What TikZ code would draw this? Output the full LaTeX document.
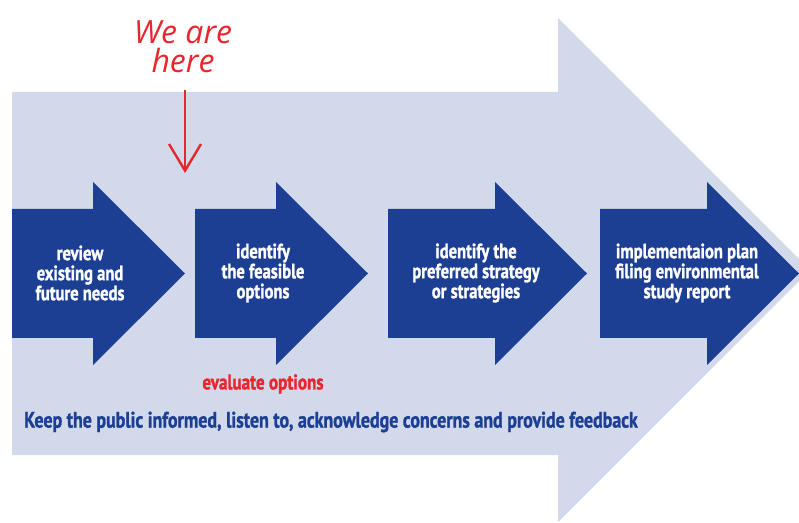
\documentclass[tikz,border=0pt]{standalone}
\usepackage{fontspec}
\setmainfont{PT Sans}[FakeStretch=0.8, BoldFeatures={FakeBold=1.2}]
\newfontfamily\handfont{Open Sans}
\usetikzlibrary{arrows.meta}
\definecolor{stepblue}{HTML}{1C3F94}
\definecolor{paleblue}{HTML}{D2D9EA}
\definecolor{markred}{HTML}{E8262D}
\begin{document}
\begin{tikzpicture}[x=0.75pt, y=-0.75pt,
  steptext/.style={text=white, font=\bfseries\fontsize{15.5}{15}\selectfont, align=center, inner sep=0pt},
  notetext/.style={font=\bfseries\fontsize{16}{16}\selectfont, inner sep=0pt},
  hand/.style={text=markred, font=\handfont\itshape\fontsize{24}{22}\selectfont, align=center, inner sep=0pt},
  pointer/.style={draw=markred, line width=1.8pt, -{Straight Barb[length=20pt, width=24pt, line width=1.8pt]}}
]
\useasboundingbox (0,0) rectangle (799,523);
\clip (0,0) rectangle (799,523);
% big background arrow
\fill[paleblue] (12,92) -- (558,92) -- (558,18) -- (810,270) -- (558,522) -- (558,455) -- (12,455) -- cycle;
% step arrows
\foreach \l/\s/\t in {12/93/185, 195/276/368, 388/495/587, 600/707/799}
  \fill[stepblue] (\l,209) -- (\s,209) -- (\s,182) -- (\t,273.5) -- (\s,365) -- (\s,338) -- (\l,338) -- cycle;
\node[steptext] (review) at (80,273) {review\\existing and\\future needs};
\node[steptext] (feasible) at (263,273) {identify\\the feasible\\options};
\node[steptext] (preferred) at (476,273) {identify the\\preferred strategy\\or strategies};
\node[steptext] (report) at (687,273) {implementaion plan\\filing environmental\\study report};
\node[notetext, text=markred] (evaluate) at (263,384) {evaluate options};
\node[notetext, text=stepblue, font=\bfseries\fontsize{16.8}{16}\selectfont] (public) at (331,422) {Keep the public informed, listen to, acknowledge concerns and provide feedback};
% we are here
\node[hand] (here) at (183,47) {We are\\here};
\coordinate (start) at (185,90);
\coordinate (target) at (185,173);
\draw[pointer] (start) -- (target);
\end{tikzpicture}
\end{document}
